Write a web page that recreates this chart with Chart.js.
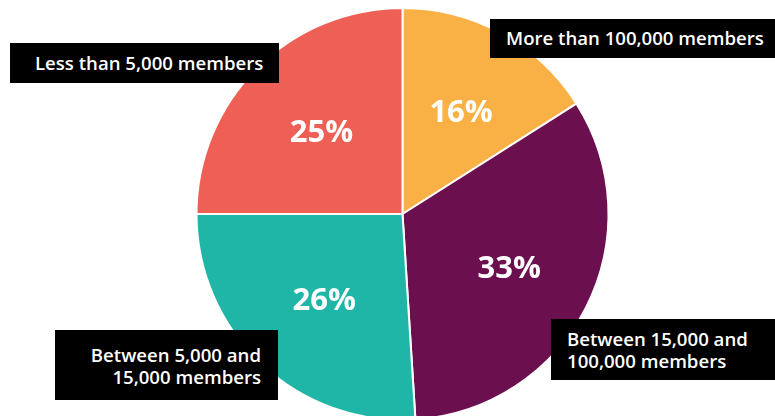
<!DOCTYPE html>
<html>
<head>
<meta charset="utf-8">
<script src="https://cdn.jsdelivr.net/npm/chart.js@4"></script>
<style>
  html, body { margin:0; padding:0; background:#fff; }
  #wrap { position:relative; width:775px; height:416px; overflow:hidden; }
  #wrap canvas { position:absolute; left:0; top:0; }
  .tag {
    position:absolute; background:#000; color:#fff;
    font-family:"Open Sans", sans-serif; font-weight:600; font-size:18.6px;
    line-height:22px; box-sizing:border-box; white-space:nowrap;
  }
</style>
</head>
<body>
<div id="wrap">
  <canvas id="pie" width="775" height="440"></canvas>
  <div class="tag" id="tag3" style="left:10px;top:43px;width:269px;height:40px;padding:9px 0 0 25px;"></div>
  <div class="tag" id="tag0" style="left:490px;top:19px;width:285px;height:39px;padding:8px 0 0 16px;"></div>
  <div class="tag" id="tag2" style="left:55px;top:330px;width:223px;height:70px;padding:14px 17px 0 0;text-align:right;"></div>
  <div class="tag" id="tag1" style="left:551px;top:319px;width:224px;height:61px;padding:9px 0 0 16px;"></div>
</div>
<script>
// slices go clockwise from 12 o'clock
const categories = ['More than 100,000 members', 'Between 15,000 and\n100,000 members', 'Between 5,000 and\n15,000 members', 'Less than 5,000 members'];
const shares = [16, 33, 26, 25];
const colours = ['#F9B044', '#6C0F4E', '#20B6A7', '#EE6055'];

categories.forEach((c, i) => {
  document.getElementById('tag' + i).innerHTML = c.split('\n').join('<br>');
});

// percentage text inside each slice
const pctLabels = {
  id: 'pctLabels',
  afterDatasetsDraw(chart){
    const ctx = chart.ctx;
    const meta = chart.getDatasetMeta(0);
    ctx.save();
    ctx.fillStyle = '#fff';
    ctx.font = '700 31px "Open Sans", sans-serif';
    ctx.textAlign = 'center';
    ctx.textBaseline = 'middle';
    meta.data.forEach((arc, i) => {
      const p = arc.getProps(['x','y','startAngle','endAngle','outerRadius'], true);
      const mid = (p.startAngle + p.endAngle) / 2;
      const r = p.outerRadius * 0.57;
      ctx.fillText(shares[i] + '%', p.x + Math.cos(mid) * r + 2, p.y + Math.sin(mid) * r + 2);
    });
    ctx.restore();
  }
};

new Chart(document.getElementById('pie'), {
  type: 'pie',
  data: {
    labels: categories,
    datasets: [{ data: shares, backgroundColor: colours, borderColor: '#fff', borderWidth: 2 }]
  },
  options: {
    responsive: false,
    animation: false,
    layout: { padding: { top: 7, bottom: 19, left: 30, right: 0 } },
    plugins: { legend: { display: false }, tooltip: { enabled: false } }
  },
  plugins: [pctLabels]
});
</script>
</body>
</html>
